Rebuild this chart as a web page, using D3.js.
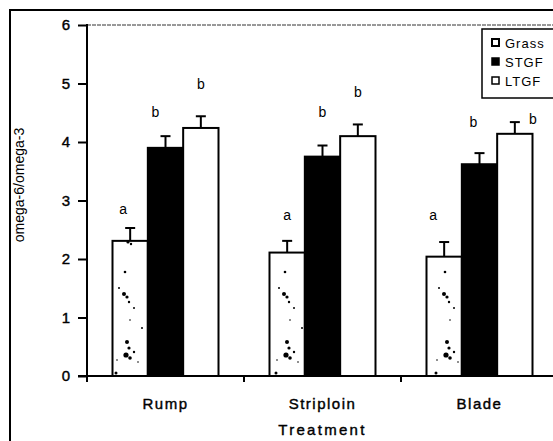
<!DOCTYPE html>
<html><head><meta charset="utf-8">
<script src="https://cdn.jsdelivr.net/npm/d3@7"></script>
<style>body{margin:0;background:#fff}svg{display:block}text{font-family:"Liberation Sans",Arial,sans-serif;fill:#000}</style>
</head><body><svg id="c" width="553" height="441"></svg>
<script>
const categories = ["Rump", "Striploin", "Blade"];
const seriesNames = ["Grass", "STGF", "LTGF"];
const grassVals = [2.31, 2.11, 2.04];
const grassErr = [0.22, 0.20, 0.25];
const stgfVals = [3.90, 3.75, 3.62];
const stgfErr = [0.20, 0.19, 0.19];
const ltgfVals = [4.24, 4.10, 4.14];
const ltgfErr = [0.20, 0.20, 0.20];
const grassLetters = ["a", "a", "a"];
const stgfLetters = ["b", "b", "b"];
const ltgfLetters = ["b", "b", "b"];
const grassLetterAt = [2.84, 2.75, 2.75];
const stgfLetterAt = [4.51, 4.51, 4.34];
const ltgfLetterAt = [4.99, 4.84, 4.38];
const yTicks = [0, 1, 2, 3, 4, 5, 6];

// annotation layout offsets (px), not data
const letterDx = {Grass: [-7, 0, -11], STGF: [-10, 0, -6], LTGF: [0, 0, 18]};

const svg = d3.select("#c");
const x0 = d3.scaleBand().domain(categories).range([87, 558]);
const x1 = d3.scaleBand().domain(seriesNames).range([25.5, x0.bandwidth() - 25.5]);
const y = d3.scaleLinear().domain([0, 6]).range([376, 25]);

const defs = svg.append("defs");
const pat = defs.append("pattern").attr("id", "speck").attr("patternUnits", "userSpaceOnUse")
  .attr("width", 160).attr("height", 140).attr("x", 112).attr("y", 240);
pat.append("rect").attr("width", 160).attr("height", 140).attr("fill", "#fff");
[[16,2,1.6],[19,4,1.2],[13,32,1.3],[7,48,1],[12,54,2],[15,57,1.6],[17,62,1.2],[22,68,1],[18,80,0.8],[30,88,1],
 [15,102,2],[17,108,1.6],[14,115,2.6],[18,118,1.8],[22,112,1.2],[5,120,0.8],[26,122,0.8],[4,133,1.5]].forEach(p=>{
  pat.append("circle").attr("cx", p[0]).attr("cy", p[1]).attr("r", p[2]).attr("fill", "#000");
});

// outer frame
svg.append("rect").attr("x", 10).attr("y", 10).attr("width", 560).attr("height", 460)
  .attr("fill", "none").attr("stroke", "#000").attr("stroke-width", 2);

// top dashed border of plot area
svg.append("line").attr("x1", 87).attr("x2", 553).attr("y1", y(6)).attr("y2", y(6))
  .attr("stroke", "#333").attr("stroke-width", 1).attr("stroke-dasharray", "4,1");

const series = [
  {name: "Grass", vals: grassVals, err: grassErr, letters: grassLetters, at: grassLetterAt, fill: "url(#speck)"},
  {name: "STGF", vals: stgfVals, err: stgfErr, letters: stgfLetters, at: stgfLetterAt, fill: "#000"},
  {name: "LTGF", vals: ltgfVals, err: ltgfErr, letters: ltgfLetters, at: ltgfLetterAt, fill: "#fff"}
];

const g = svg.append("g");
series.forEach(s => {
  categories.forEach((c, i) => {
    const bx = x0(c) + x1(s.name), bw = x1.bandwidth(), cx = bx + bw / 2;
    const top = s.vals[i] + s.err[i];
    g.append("line").attr("x1", cx).attr("x2", cx).attr("y1", y(s.vals[i])).attr("y2", y(top))
      .attr("stroke", "#000").attr("stroke-width", 2);
    g.append("line").attr("x1", cx - 5).attr("x2", cx + 5).attr("y1", y(top)).attr("y2", y(top))
      .attr("stroke", "#000").attr("stroke-width", 2);
    g.append("rect").attr("x", bx).attr("y", y(s.vals[i])).attr("width", bw)
      .attr("height", y(0) - y(s.vals[i])).attr("fill", s.fill)
      .attr("stroke", "#000").attr("stroke-width", 2);
    g.append("text").attr("x", cx + letterDx[s.name][i]).attr("y", y(s.at[i]) + 4.5)
      .attr("text-anchor", "middle").attr("font-size", 14).text(s.letters[i]);
  });
});

// y axis
const yAxis = svg.append("g").attr("transform", "translate(87,0)")
  .call(d3.axisLeft(y).tickValues(yTicks).tickSize(9).tickPadding(8).tickFormat(d3.format("d")));
yAxis.select(".domain").remove();
yAxis.selectAll(".tick line").attr("stroke-width", 2);
yAxis.selectAll("text").attr("font-size", 15).style("font-family", "'Liberation Sans',Arial,sans-serif")
  .attr("stroke", "#000").attr("stroke-width", 0.4);
svg.append("line").attr("x1", 87).attr("x2", 87).attr("y1", y(6) - 1).attr("y2", y(0) + 6)
  .attr("stroke", "#000").attr("stroke-width", 2);

// x axis
svg.append("line").attr("x1", 78).attr("x2", 553).attr("y1", y(0)).attr("y2", y(0))
  .attr("stroke", "#000").attr("stroke-width", 2);
categories.forEach(c => {
  svg.append("line").attr("x1", x0(c)).attr("x2", x0(c)).attr("y1", y(0)).attr("y2", y(0) + 6)
    .attr("stroke", "#000").attr("stroke-width", 2);
  svg.append("text").attr("x", x0(c) + x0.bandwidth() / 2).attr("y", 409)
    .attr("text-anchor", "middle").attr("font-size", 15).attr("letter-spacing", 1.5)
    .attr("stroke", "#000").attr("stroke-width", 0.4).text(c);
});
svg.append("text").attr("x", x0("Striploin") + x0.bandwidth() / 2).attr("y", 435)
  .attr("text-anchor", "middle").attr("font-size", 15).attr("letter-spacing", 2.3)
  .attr("stroke", "#000").attr("stroke-width", 0.4).text("Treatment");

// y label
svg.append("text").attr("transform", "translate(24,185) rotate(-90)")
  .attr("text-anchor", "middle").attr("font-size", 14).text("omega-6/omega-3");

// legend
const lg = svg.append("g");
lg.append("rect").attr("x", 482).attr("y", 29).attr("width", 90).attr("height", 69)
  .attr("fill", "#fff").attr("stroke", "#000").attr("stroke-width", 1.5);
const legendFill = {Grass: "#fff", STGF: "#000", LTGF: "#fff"};
seriesNames.forEach((n, i) => {
  const cy = 43 + i * 19;
  lg.append("rect").attr("x", 492).attr("y", cy - 4).attr("width", 7).attr("height", 7)
    .attr("fill", legendFill[n]).attr("stroke", "#000").attr("stroke-width", n === "Grass" ? 2 : 1.5);
  lg.append("text").attr("x", 505).attr("y", cy + 5).attr("font-size", 13).attr("letter-spacing", 1).text(n);
});
</script></body></html>
